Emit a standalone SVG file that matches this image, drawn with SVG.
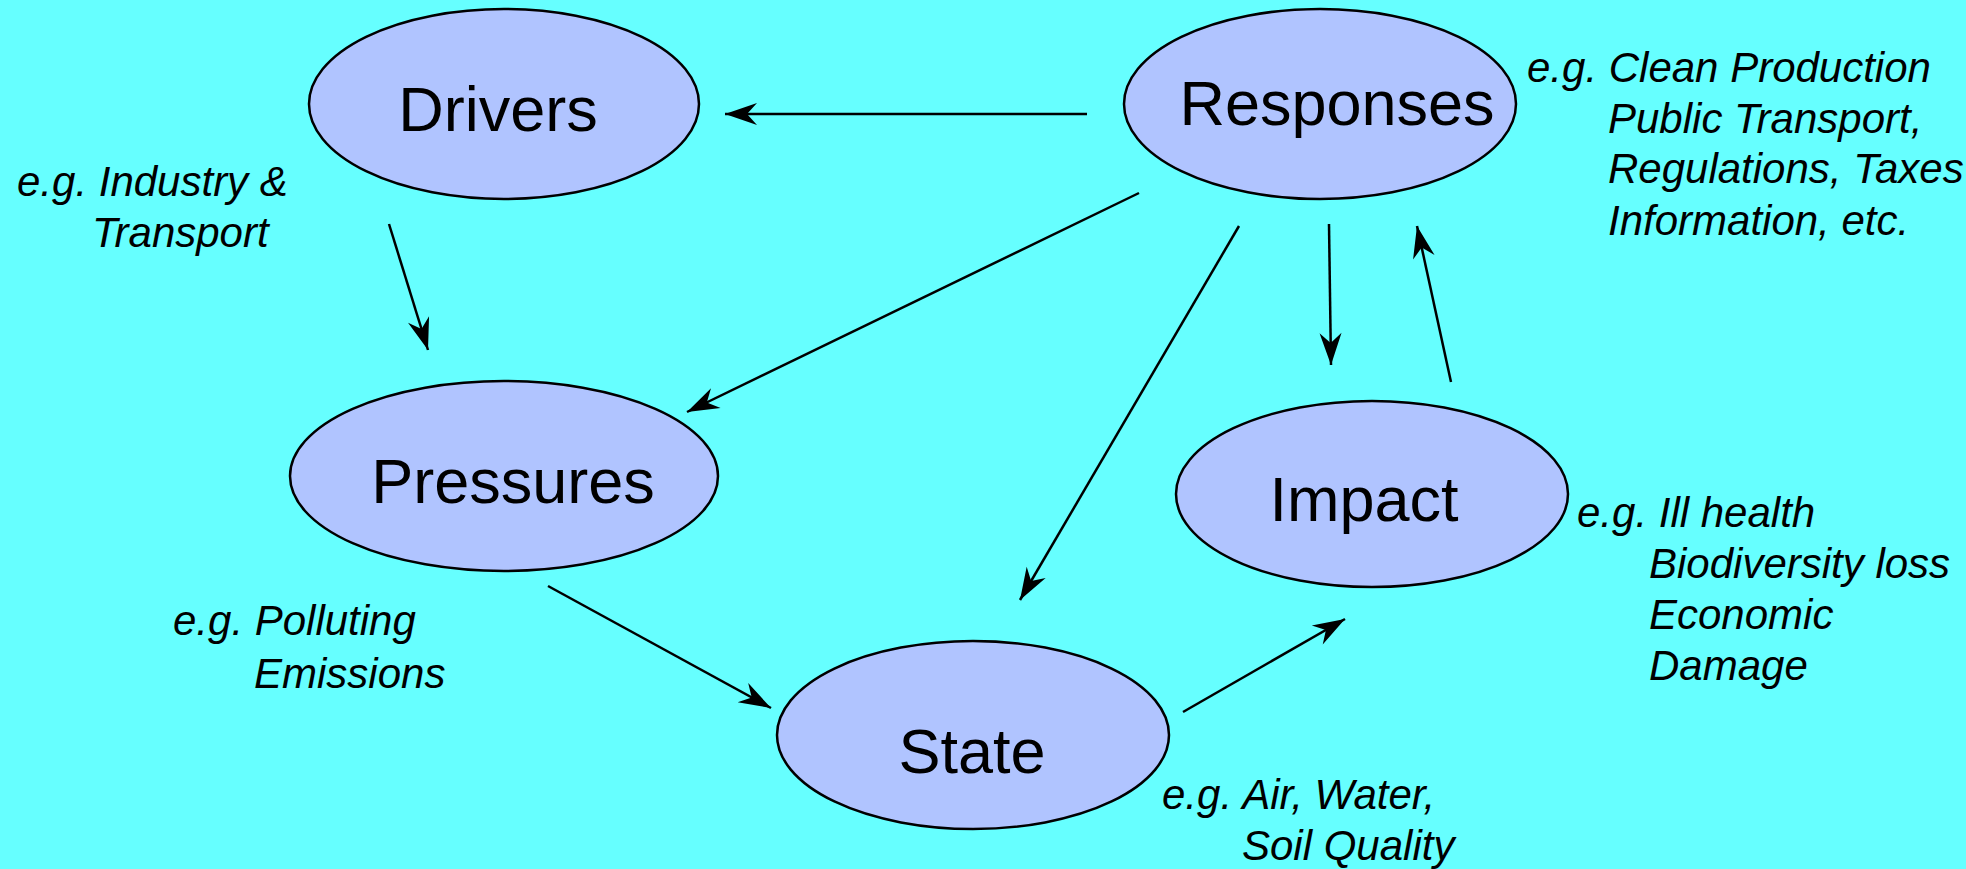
<svg xmlns="http://www.w3.org/2000/svg" width="1966" height="869" viewBox="0 0 1966 869">
<style>
.bg{fill:#66FFFF}
.node{fill:#B0C4FF;stroke:#000;stroke-width:2.5}
.nt{font-family:"Liberation Sans",Arial,sans-serif;font-size:63px;fill:#000;text-anchor:middle}
.lab{font-family:"Liberation Sans",Arial,sans-serif;font-size:42px;font-style:italic;fill:#000}
.conn line{stroke:#000;stroke-width:2.5;marker-end:url(#ah)}
</style>
<defs>
<marker id="ah" markerUnits="userSpaceOnUse" viewBox="-34 -12 36 24" markerWidth="36" markerHeight="24" refX="0" refY="0" orient="auto">
<path d="M0,0 L-32,-11 L-22,0 L-32,11 Z" fill="#000"/>
</marker>
</defs>
<rect class="bg" x="0" y="0" width="1966" height="869"/>
<g id="drivers">
<ellipse class="node" cx="504" cy="104" rx="195" ry="95"/>
<text class="nt" x="498" y="131">Drivers</text>
</g>
<g id="responses">
<ellipse class="node" cx="1320" cy="104" rx="196" ry="95"/>
<text class="nt" x="1337" y="125">Responses</text>
</g>
<g id="pressures">
<ellipse class="node" cx="504" cy="476" rx="214" ry="95"/>
<text class="nt" x="513" y="503">Pressures</text>
</g>
<g id="impact">
<ellipse class="node" cx="1372" cy="494" rx="196" ry="93"/>
<text class="nt" x="1364" y="521">Impact</text>
</g>
<g id="state">
<ellipse class="node" cx="973" cy="735" rx="196" ry="94"/>
<text class="nt" x="972" y="773">State</text>
</g>
<g id="labels">
<text class="lab" x="17" y="196">e.g. Industry &amp;</text>
<text class="lab" x="92" y="247">Transport</text>
<text class="lab" x="1527" y="82">e.g. Clean Production</text>
<text class="lab" x="1608" y="133">Public Transport,</text>
<text class="lab" x="1608" y="183">Regulations, Taxes</text>
<text class="lab" x="1608" y="235">Information, etc.</text>
<text class="lab" x="173" y="635">e.g. Polluting</text>
<text class="lab" x="254" y="688">Emissions</text>
<text class="lab" x="1577" y="527">e.g. Ill health</text>
<text class="lab" x="1649" y="578">Biodiversity loss</text>
<text class="lab" x="1649" y="629">Economic</text>
<text class="lab" x="1649" y="680">Damage</text>
<text class="lab" x="1162" y="809">e.g. Air, Water,</text>
<text class="lab" x="1242" y="860">Soil Quality</text>
</g>
<g id="connectors" class="conn">
<line x1="1087" y1="114" x2="725" y2="114"/>
<line x1="389" y1="224" x2="428" y2="350"/>
<line x1="1139" y1="193" x2="687" y2="412"/>
<line x1="1239" y1="226" x2="1020" y2="600"/>
<line x1="1329" y1="224" x2="1331" y2="365"/>
<line x1="1451" y1="382" x2="1417" y2="226"/>
<line x1="548" y1="586" x2="771" y2="708"/>
<line x1="1183" y1="712" x2="1345" y2="619"/>
</g>
</svg>
